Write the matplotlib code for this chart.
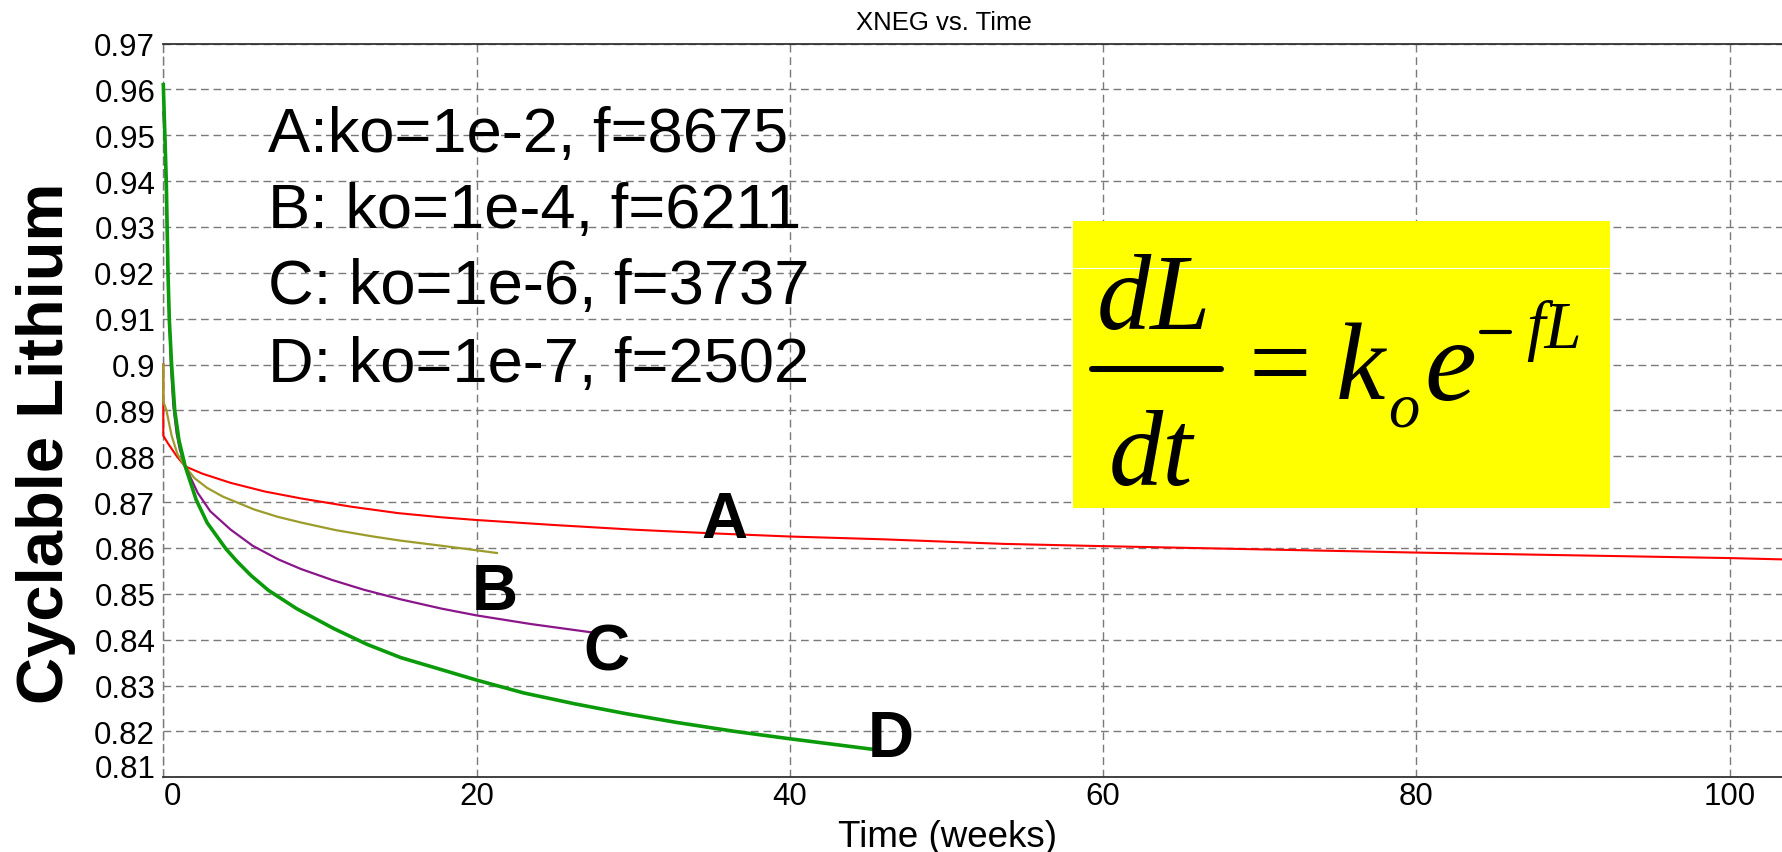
import matplotlib
matplotlib.use('Agg')
import matplotlib.pyplot as plt
from matplotlib.patches import Rectangle
from matplotlib.lines import Line2D

plt.rcParams['font.family'] = ['Liberation Sans', 'DejaVu Sans']

# ---------------- data ----------------
t_a = [0, 0, 0.3, 0.86, 1.39, 2.5, 4.3, 6.5, 8.8, 12, 15, 17.73, 20, 25, 30, 35, 40,
       45.9, 53.6, 60, 70, 80, 90, 100, 103.5]
y_a = [0.900, 0.8845, 0.8828, 0.8800, 0.8778, 0.8762, 0.8742, 0.8723, 0.8708, 0.8690,
       0.8676, 0.8667, 0.8661, 0.8650, 0.8640, 0.8632, 0.8625, 0.8619, 0.8609, 0.8604,
       0.8597, 0.8590, 0.8584, 0.8578, 0.8575]

t_b = [0, 0, 0.2, 0.53, 0.9, 1.39, 2.0, 2.8, 3.8, 4.8, 5.8, 7.3, 8.86, 11.0, 13.4,
       15.16, 17.73, 20.0, 21.3]
y_b = [0.900, 0.892, 0.8900, 0.8845, 0.8805, 0.8778, 0.8752, 0.8731, 0.8712, 0.8698,
       0.8684, 0.8668, 0.8655, 0.8639, 0.8625, 0.8616, 0.8605, 0.8595, 0.8589]

t_c = [0, 0.1, 0.3, 0.48, 0.64, 0.85, 1.05, 1.39, 2.2, 3.0, 4.3, 5.7, 7.35, 8.8, 10.8,
       12.8, 15.16, 17.73, 20, 23.5, 27.35]
y_c = [0.955, 0.950, 0.920, 0.900, 0.891, 0.885, 0.8815, 0.8779, 0.8720, 0.8680,
       0.8640, 0.8605, 0.8575, 0.8554, 0.8530, 0.8509, 0.8488, 0.8468, 0.8453, 0.8434,
       0.8416]

t_d = [0, 0.19, 0.30, 0.38, 0.53, 0.73, 1.0, 1.39, 2.1, 2.8, 4.0, 4.7, 5.6, 6.7, 8.5,
       10.9, 13.0, 15.16, 17.73, 20, 23, 26.3, 29.5, 32.7, 36.5, 40, 43, 45.3]
y_d = [0.961, 0.940, 0.920, 0.910, 0.900, 0.890, 0.8835, 0.8779, 0.8705, 0.8655,
       0.8598, 0.8571, 0.8540, 0.8508, 0.8468, 0.8424, 0.8390, 0.8361, 0.8335, 0.8312,
       0.8284, 0.8260, 0.8239, 0.8220, 0.8200, 0.8184, 0.8171, 0.8161]

x_ticks = [0, 20, 40, 60, 80, 100]
x_tick_labels = ['0', '20', '40', '60', '80', '100']
y_ticks = [0.97, 0.96, 0.95, 0.94, 0.93, 0.92, 0.91, 0.90, 0.89, 0.88, 0.87, 0.86,
           0.85, 0.84, 0.83, 0.82, 0.81]
y_tick_labels = ['0.97', '0.96', '0.95', '0.94', '0.93', '0.92', '0.91', '0.9', '0.89',
                 '0.88', '0.87', '0.86', '0.85', '0.84', '0.83', '0.82', '0.81']

legend_lines = ['A:ko=1e-2, f=8675', 'B: ko=1e-4, f=6211',
                'C: ko=1e-6, f=3737', 'D: ko=1e-7, f=2502']
curve_labels = ['A', 'B', 'C', 'D']

# ---------------- figure ----------------
W, H = 1783, 853
fig = plt.figure(figsize=(W / 100, H / 100), dpi=100)
ax = fig.add_axes([163.3 / W, (H - 778.3) / H, (W - 163.3) / W, (778.3 - 44.5) / H])
ax.set_xlim(0, 103.4)
ax.set_ylim(0.81, 0.97)

grid_color = '#7a7a7a'
dash = (0, (5.6, 3.4))
ax.grid(True, color=grid_color, lw=1.0, linestyle=dash)
ax.set_axisbelow(True)

for s in ['top', 'bottom']:
    ax.spines[s].set_color('#333333')
    ax.spines[s].set_linewidth(1.3)
ax.spines['right'].set_visible(False)
ax.spines['left'].set_color(grid_color)
ax.spines['left'].set_linewidth(1.0)
ax.spines['left'].set_linestyle(dash)

ax.set_xticks(x_ticks)
ax.set_xticklabels(x_tick_labels)
ax.set_yticks(y_ticks)
ax.set_yticklabels(y_tick_labels)
ax.tick_params(axis='both', length=0, labelsize=22.5, labelcolor='black')
ax.tick_params(axis='y', pad=5.8)
ax.tick_params(axis='x', pad=3)
ax.get_xticklabels()[0].set_ha('left')
for lab in ax.get_yticklabels():
    if lab.get_text() == '0.81':
        lab.set_va('baseline')

# yellow equation box
bx0, bx1, by0, by1 = 58.08, 92.36, 0.86878, 0.93130
ax.add_patch(Rectangle((bx0, by0), bx1 - bx0, by1 - by0, facecolor='#ffff00',
                       edgecolor='none', zorder=2))
ax.hlines(0.92098, bx0, bx1, color='white', lw=0.8, zorder=2.1)


# equation dL/dt = k_o e^{-fL}, composed piece by piece (pixel positions)
def ptxt(x, y, s, size, style='italic'):
    fig.text(x / W, 1 - y / H, s, fontsize=size, fontstyle=style,
             family=['Liberation Serif', 'DejaVu Serif'], ha='left', va='baseline',
             zorder=5)


def pbar(x0, x1, y, lw):
    fig.add_artist(Line2D([x0 / W, x1 / W], [1 - y / H, 1 - y / H], lw=lw,
                          color='black', solid_capstyle='round', zorder=5))


ptxt(1097, 328.5, 'dL', 78)
ptxt(1109, 485, 'dt', 78)
pbar(1092, 1221, 370, 4.3)
ptxt(1249, 399, '=', 80, style='normal')
ptxt(1336, 399.3, 'k', 80)
ptxt(1388, 427, 'o', 45)
ptxt(1424, 400, 'e', 84)
pbar(1481, 1510, 332.5, 3.0)
ptxt(1526, 348.3, 'fL', 48)

# curves
ax.plot(t_a, y_a, color='#ff0000', lw=1.5, zorder=3, clip_on=False)
ax.plot(t_b, y_b, color='#9c9c2c', lw=1.6, zorder=3, clip_on=False)
ax.plot(t_c, y_c, color='#8a168a', lw=1.6, zorder=3, clip_on=False)
ax.plot(t_d, y_d, color='#0a9a0a', lw=2.6, zorder=3.2, clip_on=False)

# parameter text block
for txt, yb in zip(legend_lines, [0.94662, 0.92992, 0.91342, 0.89647]):
    ax.text(6.68, yb, txt, fontsize=45.5, ha='left', va='baseline', zorder=4)

# curve labels
for lab, xl, yl in zip(curve_labels, [35.80, 21.14, 28.26, 46.42],
                       [0.86232, 0.84669, 0.83361, 0.81470]):
    ax.text(xl, yl, lab, fontsize=46, fontweight='bold', ha='center', va='baseline',
            zorder=4)

# titles / axis labels
fig.text(943.7 / W, 1 - 30 / H, 'XNEG vs. Time', ha='center', va='baseline',
         fontsize=18.5)
fig.text(947 / W, 1 - 846.7 / H, 'Time (weeks)', ha='center', va='baseline',
         fontsize=26.5)
fig.text(63.3 / W, 1 - 443.5 / H, 'Cyclable Lithium', rotation=90,
         rotation_mode='anchor', ha='center', va='baseline', fontsize=47,
         fontweight='bold')

fig.savefig('out.png', dpi=100)
